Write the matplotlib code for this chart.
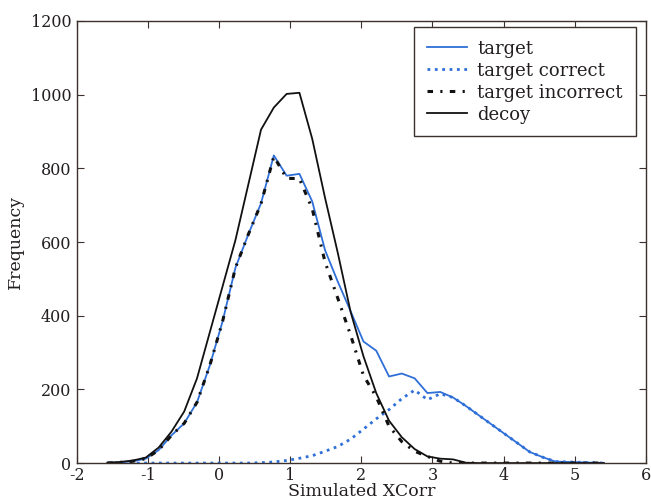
"""Simulated XCorr frequency distributions: target vs decoy."""
import matplotlib
matplotlib.use("Agg")
import matplotlib.pyplot as plt

# ── Palette ───────────────────────────────────────────────────────────────────
BLUE   = "#2f6fd8"
BLACK  = "#111111"
TEXT   = "#231f20"
SPINE  = "#3b302c"

# ── Data (bin centres) ───────────────────────────────────────────────────────
xcorr = [-1.57, -1.39, -1.21, -1.03, -0.85, -0.67, -0.49, -0.31, -0.13, 0.05,
         0.23, 0.41, 0.59, 0.77, 0.95, 1.13, 1.31, 1.49, 1.67, 1.85,
         2.03, 2.21, 2.39, 2.57, 2.75, 2.93, 3.11, 3.29, 3.47, 3.65,
         3.83, 4.01, 4.19, 4.37, 4.55, 4.73, 4.91, 5.09, 5.27, 5.41]

target = [0, 2, 5, 12, 35, 75, 108, 165, 265, 385,
          530, 620, 705, 835, 780, 785, 710, 578, 492, 412,
          330, 305, 235, 243, 230, 190, 193, 178, 155, 130,
          105, 80, 55, 30, 16, 4, 3, 2, 1, 0]

target_correct = [0, 0, 0, 0, 0, 0, 0, 0, 0, 0,
                  0, 0, 1, 3, 7, 13, 20, 32, 45, 65,
                  92, 120, 145, 175, 198, 172, 188, 178, 155, 130,
                  105, 80, 55, 30, 16, 4, 3, 2, 1, 0]

target_incorrect = [0, 2, 5, 12, 35, 75, 108, 165, 265, 385,
                    530, 620, 704, 832, 773, 772, 690, 546, 447, 347,
                    238, 180, 100, 58, 32, 18, 5, 0, 0, 0,
                    0, 0, 0, 0, 0, 0, 0, 0, 0, 0]

decoy = [1, 3, 7, 15, 42, 85, 140, 230, 355, 480,
         605, 755, 905, 965, 1002, 1005, 880, 720, 570, 410,
         290, 190, 115, 70, 38, 18, 12, 10, 1, 0,
         0, 0, 0, 0, 0, 0, 0, 0, 0, 0]

x_ticks = [-2, -1, 0, 1, 2, 3, 4, 5, 6]
y_ticks = [0, 200, 400, 600, 800, 1000, 1200]

plt.rcParams["font.family"] = ["DejaVu Serif"]
plt.rcParams["axes.unicode_minus"] = False

fig = plt.figure(figsize=(6.51, 4.99), dpi=100, facecolor="white")
ax = fig.add_axes([0.118, 0.072, 0.874, 0.886])

ax.plot(xcorr, target, color=BLUE, linewidth=1.3, label="target")
ax.plot(xcorr, target_correct, color=BLUE, linewidth=2.0, linestyle=":",
        label="target correct")
ax.plot(xcorr, target_incorrect, color=BLACK, linewidth=2.2,
        linestyle=(0, (1.8, 2.4, 0.7, 2.4)), label="target incorrect")
ax.plot(xcorr, decoy, color=BLACK, linewidth=1.3, label="decoy")

ax.set_xlim(-2, 6)
ax.set_ylim(0, 1200)
ax.set_xticks(x_ticks)
ax.set_yticks(y_ticks)
ax.tick_params(direction="in", top=True, right=True, length=5, width=0.8,
               colors=SPINE, labelcolor=TEXT, labelsize=11.5, pad=3)
ax.tick_params(axis="y", pad=4)
for spine in ax.spines.values():
    spine.set_color(SPINE)
    spine.set_linewidth(1.0)

ax.set_xlabel("Simulated XCorr", fontsize=12.5, color=TEXT, labelpad=-1)
ax.set_ylabel("Frequency", fontsize=12.5, color=TEXT, labelpad=5)

leg = ax.legend(loc="upper right", fontsize=13, fancybox=False, framealpha=1,
                edgecolor=SPINE, borderpad=0.7, labelspacing=0.22,
                handlelength=2.2, handletextpad=0.6, borderaxespad=0,
                bbox_to_anchor=(0.982, 0.986))
leg.get_frame().set_linewidth(1.0)
for t in leg.get_texts():
    t.set_color(TEXT)

fig.savefig("out.png", dpi=100, facecolor="white")
